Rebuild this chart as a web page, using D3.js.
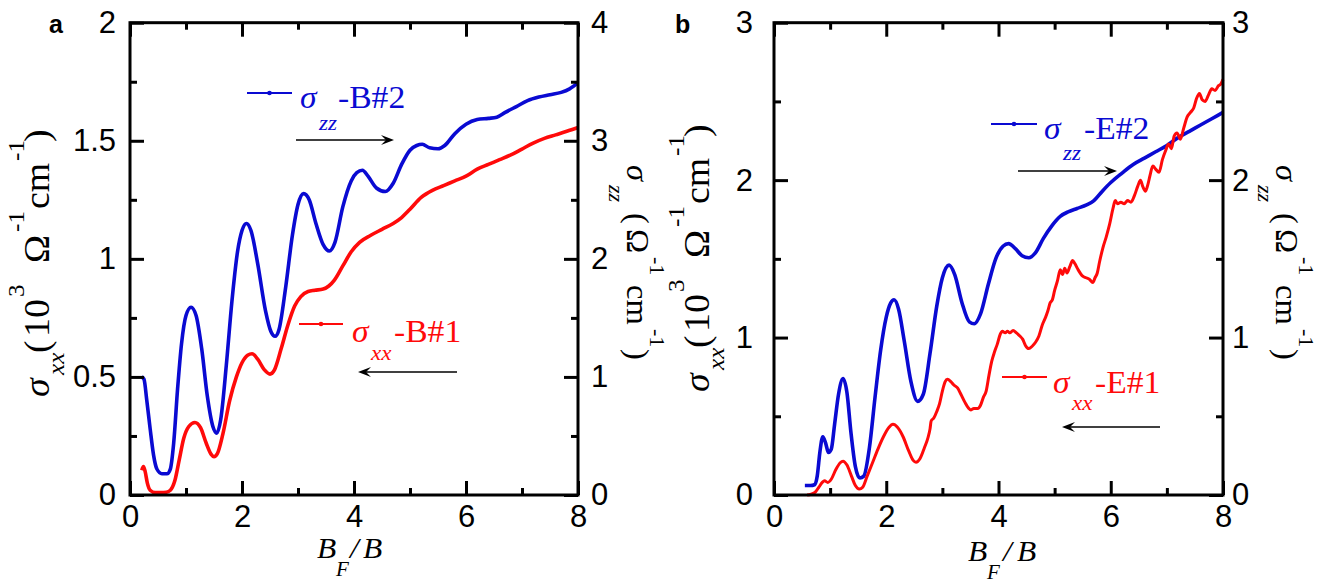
<!DOCTYPE html>
<html><head><meta charset="utf-8">
<script src="https://cdn.jsdelivr.net/npm/d3@7"></script>
<style>body{margin:0;background:#fff}svg{display:block}</style>
</head><body><svg id="c" width="1340" height="585"></svg>
<script>
// ---------- data ----------
const xMajor=[0,2,4,6,8], xMinor=[1,3,5,7], xLabels=['0','2','4','6','8'];
const aLeftMajor=[0,0.5,1,1.5,2], aLeftMinor=[0.25,0.75,1.25,1.75], aLeftLabels=['0','0.5','1','1.5','2'];
const aRightMajor=[0,1,2,3,4], aRightMinor=[0.5,1.5,2.5,3.5], aRightLabels=['0','1','2','3','4'];
const bLeftMajor=[0,1,2,3], bLeftMinor=[0.5,1.5,2.5], bLeftLabels=['0','1','2','3'];
const bRightMajor=[0,1,2,3], bRightMinor=[0.5,1.5,2.5], bRightLabels=['0','1','2','3'];

// panel a: sigma_zz B#2 (right axis, Ω^-1 cm^-1)
const zzB2=[[0.21,1.00],[0.25,0.98],[0.30,0.80],[0.36,0.56],[0.42,0.34],[0.48,0.22],[0.57,0.18],[0.66,0.18],[0.72,0.22],[0.78,0.44],[0.85,0.90],[0.92,1.28],[1.00,1.52],[1.09,1.59],[1.18,1.52],[1.28,1.24],[1.38,0.84],[1.48,0.58],[1.55,0.524],[1.62,0.64],[1.72,1.10],[1.82,1.64],[1.92,2.06],[2.00,2.24],[2.08,2.30],[2.16,2.24],[2.28,1.96],[2.42,1.56],[2.52,1.38],[2.59,1.344],[2.66,1.40],[2.78,1.76],[2.90,2.20],[3.00,2.46],[3.10,2.552],[3.20,2.50],[3.32,2.30],[3.45,2.12],[3.56,2.066],[3.66,2.14],[3.80,2.44],[3.95,2.66],[4.05,2.73],[4.15,2.75],[4.25,2.70],[4.40,2.60],[4.56,2.57],[4.70,2.64],[4.85,2.80],[5.00,2.92],[5.12,2.96],[5.22,2.97],[5.35,2.94],[5.50,2.932],[5.62,2.96],[5.80,3.06],[6.00,3.14],[6.20,3.18],[6.40,3.19],[6.55,3.20],[6.70,3.24],[6.90,3.29],[7.10,3.34],[7.30,3.37],[7.50,3.39],[7.70,3.41],[7.85,3.44],[8.00,3.49]];
// panel a: sigma_xx B#1 (left axis, 10^3 Ω^-1 cm^-1)
const xxB1=[[0.21,0.105],[0.24,0.12],[0.27,0.10],[0.31,0.05],[0.36,0.02],[0.45,0.01],[0.55,0.01],[0.65,0.012],[0.72,0.02],[0.80,0.06],[0.88,0.15],[0.96,0.24],[1.05,0.29],[1.16,0.307],[1.26,0.285],[1.36,0.22],[1.45,0.172],[1.50,0.162],[1.56,0.175],[1.66,0.26],[1.78,0.40],[1.90,0.50],[2.00,0.56],[2.10,0.592],[2.18,0.598],[2.28,0.575],[2.40,0.53],[2.50,0.512],[2.58,0.53],[2.70,0.62],[2.82,0.72],[2.94,0.80],[3.05,0.84],[3.18,0.862],[3.30,0.867],[3.45,0.872],[3.55,0.885],[3.65,0.91],[3.80,0.97],[3.95,1.03],[4.10,1.07],[4.30,1.10],[4.50,1.125],[4.70,1.15],[4.85,1.175],[5.00,1.21],[5.20,1.26],[5.40,1.29],[5.60,1.31],[5.80,1.33],[6.00,1.35],[6.20,1.38],[6.40,1.40],[6.60,1.42],[6.80,1.44],[7.00,1.465],[7.20,1.49],[7.40,1.51],[7.60,1.525],[7.80,1.54],[8.00,1.556]];
// panel b: sigma_zz E#2 (right axis)
const zzE2=[[0.55,0.06],[0.65,0.06],[0.72,0.065],[0.77,0.12],[0.82,0.28],[0.87,0.37],[0.92,0.33],[0.97,0.27],[1.02,0.29],[1.08,0.45],[1.15,0.64],[1.23,0.74],[1.30,0.65],[1.37,0.40],[1.45,0.18],[1.53,0.108],[1.60,0.12],[1.70,0.30],[1.80,0.62],[1.90,0.92],[2.00,1.13],[2.08,1.22],[2.14,1.24],[2.22,1.18],[2.32,0.98],[2.44,0.72],[2.56,0.595],[2.66,0.64],[2.78,0.90],[2.90,1.20],[3.00,1.38],[3.12,1.46],[3.22,1.40],[3.35,1.22],[3.48,1.10],[3.57,1.088],[3.68,1.15],[3.82,1.34],[3.95,1.50],[4.08,1.58],[4.18,1.597],[4.30,1.565],[4.42,1.52],[4.54,1.507],[4.66,1.54],[4.80,1.63],[4.95,1.71],[5.10,1.77],[5.25,1.80],[5.40,1.82],[5.57,1.843],[5.70,1.87],[5.85,1.93],[6.00,1.985],[6.20,2.045],[6.40,2.10],[6.60,2.14],[6.80,2.18],[7.00,2.22],[7.20,2.27],[7.40,2.31],[7.60,2.35],[7.80,2.39],[8.00,2.43]];
// panel b: sigma_xx E#1 (left axis)
const xxE1=[[0.59,0.0],[0.66,0.005],[0.74,0.02],[0.80,0.05],[0.86,0.08],[0.90,0.09],[0.96,0.08],[1.02,0.10],[1.10,0.16],[1.18,0.205],[1.23,0.215],[1.30,0.19],[1.38,0.12],[1.45,0.06],[1.52,0.038],[1.58,0.05],[1.66,0.12],[1.75,0.20],[1.85,0.29],[1.95,0.37],[2.05,0.43],[2.12,0.449],[2.20,0.43],[2.30,0.37],[2.40,0.28],[2.48,0.22],[2.53,0.208],[2.60,0.23],[2.68,0.30],[2.74,0.36],[2.78,0.42],[2.80,0.47],[2.85,0.49],[2.90,0.53],[2.95,0.58],[3.00,0.66],[3.05,0.72],[3.09,0.735],[3.15,0.72],[3.20,0.70],[3.27,0.68],[3.33,0.64],[3.40,0.59],[3.47,0.55],[3.51,0.54],[3.56,0.55],[3.63,0.55],[3.68,0.57],[3.73,0.62],[3.78,0.66],[3.83,0.76],[3.88,0.85],[3.93,0.91],[3.98,0.96],[4.03,1.02],[4.07,1.04],[4.12,1.03],[4.16,1.04],[4.20,1.03],[4.26,1.045],[4.32,1.03],[4.38,1.01],[4.43,0.99],[4.48,0.95],[4.54,0.93],[4.60,0.945],[4.66,0.97],[4.72,1.01],[4.78,1.08],[4.84,1.13],[4.88,1.17],[4.92,1.22],[4.96,1.24],[5.00,1.30],[5.05,1.36],[5.10,1.43],[5.14,1.40],[5.18,1.44],[5.22,1.41],[5.27,1.45],[5.32,1.49],[5.36,1.47],[5.42,1.43],[5.50,1.39],[5.56,1.38],[5.62,1.37],[5.68,1.35],[5.72,1.38],[5.76,1.41],[5.80,1.48],[5.86,1.57],[5.92,1.64],[5.98,1.72],[6.04,1.82],[6.08,1.87],[6.12,1.85],[6.18,1.86],[6.24,1.85],[6.30,1.87],[6.36,1.86],[6.42,1.90],[6.48,1.96],[6.53,2.00],[6.57,1.96],[6.62,1.93],[6.66,1.97],[6.70,2.03],[6.75,2.09],[6.80,2.07],[6.86,2.05],[6.92,2.13],[6.98,2.19],[7.03,2.23],[7.08,2.20],[7.13,2.28],[7.18,2.30],[7.24,2.26],[7.30,2.33],[7.36,2.40],[7.42,2.43],[7.48,2.46],[7.53,2.52],[7.58,2.55],[7.63,2.51],[7.68,2.50],[7.74,2.54],[7.80,2.58],[7.86,2.57],[7.92,2.60],[7.96,2.61],[8.00,2.64]];

const legendA=['-B#2','-B#1'], legendB=['-E#2','-E#1'];

// ---------- drawing ----------
const BLUE='#0a0ad2', RED='#ff0a0a';
const SANS='Liberation Sans, Arial, sans-serif', SERIF='Liberation Serif, Times New Roman, serif';
const SX=1.05;
const svg=d3.select('#c');
svg.append('rect').attr('width',1340).attr('height',585).attr('fill','#fff');

function pieces(x,y,rot,list,color){
  const g=svg.append('g').attr('transform',`translate(${x},${y}) rotate(${rot})`);
  list.forEach(p=>g.append('text')
    .attr('transform',`translate(${p.o},${p.d||0}) scale(${SX},1)`)
    .attr('font-family',SERIF).attr('font-size',p.s)
    .attr('font-style',p.i?'italic':'normal').attr('fill',color).text(p.t));
}
function arrow(x1,x2,y){
  const s=Math.sign(x2-x1);
  svg.append('line').attr('x1',x1).attr('x2',x2-s*4).attr('y1',y).attr('y2',y)
    .attr('stroke','#000').attr('stroke-width',1.4);
  svg.append('path').attr('d',`M${x2},${y}L${x2-s*13},${y-5}L${x2-s*8},${y}L${x2-s*13},${y+5}Z`).attr('fill','#000');
}
function legendLine(x1,x2,y,color){
  svg.append('line').attr('x1',x1).attr('x2',x2).attr('y1',y).attr('y2',y).attr('stroke',color).attr('stroke-width',2);
  svg.append('circle').attr('cx',(x1+x2)/2).attr('cy',y).attr('r',2.3).attr('fill',color);
}

function drawPanel(p){
  const x=d3.scaleLinear().domain([0,8]).range([p.x0,p.x1]);
  const yL=d3.scaleLinear().domain(p.ld).range([p.yb,p.yt]);
  const yR=d3.scaleLinear().domain(p.rd).range([p.yb,p.yt]);
  const lineR=d3.line().x(d=>x(d[0])).y(d=>yR(d[1])).curve(d3.curveMonotoneX);
  const lineL=d3.line().x(d=>x(d[0])).y(d=>yL(d[1])).curve(d3.curveMonotoneX);
  svg.append('path').attr('d',lineR(p.zz)).attr('fill','none').attr('stroke',BLUE).attr('stroke-width',3.6).attr('stroke-linejoin','round');
  svg.append('path').attr('d',lineL(p.xx)).attr('fill','none').attr('stroke',RED).attr('stroke-width',p.redW).attr('stroke-linejoin','round');

  function ax(gen,scale,ticks,size,pad,labels,tr){
    const a=gen(scale).tickValues(ticks).tickSize(-size).tickPadding(pad)
      .tickFormat(labels?((d,i)=>labels[i]):()=> '');
    const g=svg.append('g').attr('transform',tr).call(a);
    g.select('.domain').remove();
    g.selectAll('line').attr('stroke','#000').attr('stroke-width',3);
    g.selectAll('text').attr('font-family',SANS).attr('font-size',31).attr('fill','#000');
  }
  ax(d3.axisBottom,x,xMajor,14,10,xLabels,`translate(0,${p.yb})`);
  ax(d3.axisBottom,x,xMinor,7,10,null,`translate(0,${p.yb})`);
  ax(d3.axisTop,x,xMajor,14,0,null,`translate(0,${p.yt})`);
  ax(d3.axisTop,x,xMinor,7,0,null,`translate(0,${p.yt})`);
  ax(d3.axisLeft,yL,p.lMaj,14,p.lPad,p.lLab,`translate(${p.x0},0)`);
  ax(d3.axisLeft,yL,p.lMin,7,0,null,`translate(${p.x0},0)`);
  ax(d3.axisRight,yR,p.rMaj,14,p.rPad,p.rLab,`translate(${p.x1},0)`);
  ax(d3.axisRight,yR,p.rMin,7,0,null,`translate(${p.x1},0)`);
  svg.append('rect').attr('x',p.x0).attr('y',p.yt).attr('width',p.x1-p.x0).attr('height',p.yb-p.yt)
    .attr('fill','none').attr('stroke','#000').attr('stroke-width',3);
}

drawPanel({x0:130,x1:578,yb:495,yt:22.7,ld:[0,2],rd:[0,4],zz:zzB2,xx:xxB1,redW:3.6,
  lMaj:aLeftMajor,lMin:aLeftMinor,lLab:aLeftLabels,lPad:14,rMaj:aRightMajor,rMin:aRightMinor,rLab:aRightLabels,rPad:13});
drawPanel({x0:774,x1:1223,yb:495,yt:22.7,ld:[0,3],rd:[0,3],zz:zzE2,xx:xxE1,redW:3,
  lMaj:bLeftMajor,lMin:bLeftMinor,lLab:bLeftLabels,lPad:21,rMaj:bRightMajor,rMin:bRightMinor,rLab:bRightLabels,rPad:9});

// panel letters
svg.append('text').attr('x',49).attr('y',33).attr('font-family',SANS).attr('font-weight','bold').attr('font-size',25).text('a');
svg.append('text').attr('x',675).attr('y',33).attr('font-family',SANS).attr('font-weight','bold').attr('font-size',25).text('b');

// axis titles
const leftTitle=[{t:'σ',o:0,s:36,i:1},{t:'xx',o:22,d:15,s:24,i:1},{t:'(',o:44,s:36},{t:'10',o:60,s:36},
  {t:'3',o:100,d:-25,s:24},{t:'Ω',o:134,s:36},{t:'-1',o:165,d:-25,s:24},{t:'cm',o:188,s:36},
  {t:'-1',o:236,d:-25,s:24},{t:')',o:255,s:36}];
const rightTitle=[{t:'σ',o:0,s:31,i:1},{t:'zz',o:20,d:18,s:21,i:1},{t:'(',o:48,s:31},{t:'Ω',o:64,s:31},
  {t:'-1',o:92,d:-23,s:21},{t:'cm',o:120,s:31},{t:'-1',o:164,d:-23,s:21},{t:')',o:184,s:31}];
pieces(49,397,-90,leftTitle,'#000');
pieces(709,392,-90,leftTitle,'#000');
pieces(627,165,90,rightTitle,'#000');
pieces(1276,165,90,rightTitle,'#000');
pieces(317,558,0,[{t:'B',o:0,s:30,i:1},{t:'F',o:19,d:18,s:20,i:1},{t:'/',o:33,s:30,i:1},{t:'B',o:46,s:30,i:1}],'#000');
pieces(968,561,0,[{t:'B',o:0,s:30,i:1},{t:'F',o:19,d:18,s:20,i:1},{t:'/',o:35,s:30,i:1},{t:'B',o:49,s:30,i:1}],'#000');

// legends
legendLine(247,292,93,BLUE);
pieces(300,108,0,[{t:'σ',o:0,s:32,i:1},{t:'zz',o:19,d:22,s:22,i:1},{t:legendA[0],o:38,s:32}],BLUE);
legendLine(299,343,324,RED);
pieces(352,342,0,[{t:'σ',o:0,s:32,i:1},{t:'xx',o:19,d:18,s:22,i:1},{t:legendA[1],o:42,s:32}],RED);
legendLine(991,1037,124,BLUE);
pieces(1044,139,0,[{t:'σ',o:0,s:32,i:1},{t:'zz',o:19,d:21,s:22,i:1},{t:legendB[0],o:40,s:32}],BLUE);
legendLine(1002,1047,377,RED);
pieces(1053,393,0,[{t:'σ',o:0,s:32,i:1},{t:'xx',o:19,d:17,s:22,i:1},{t:legendB[1],o:42,s:32}],RED);

// arrows
arrow(296,394,140); arrow(457,358,372);
arrow(1018,1117,171); arrow(1160,1062,427);
</script></body></html>
